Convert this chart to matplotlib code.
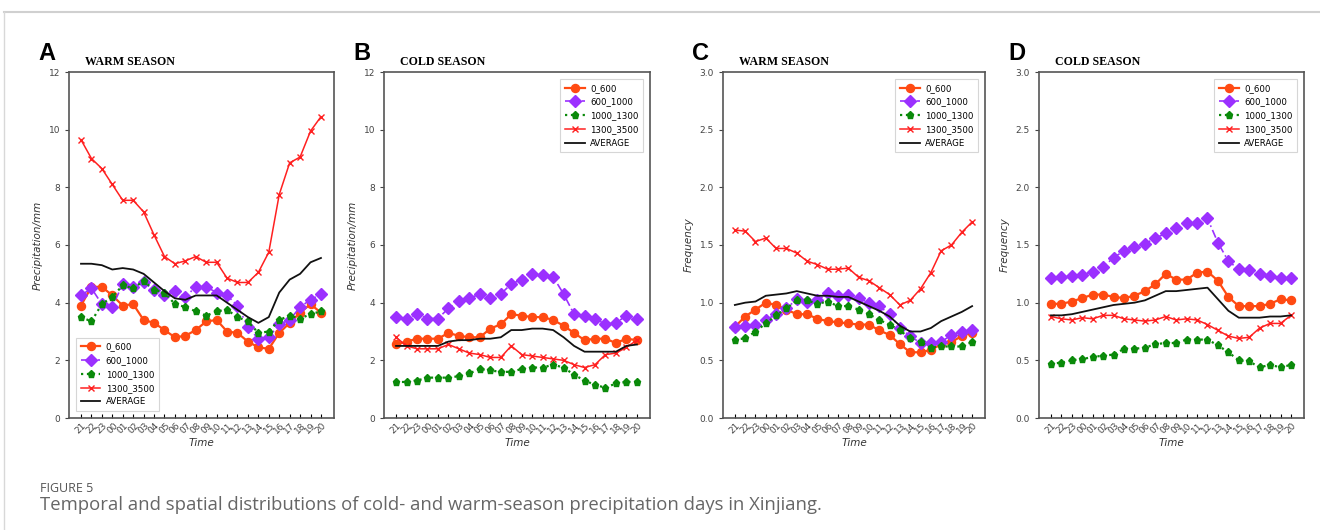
import matplotlib.pyplot as plt
from matplotlib.lines import Line2D

# hours, 21 UTC through 20
hours = ["21", "22", "23", "00", "01", "02", "03", "04", "05", "06", "07", "08",
         "09", "10", "11", "12", "13", "14", "15", "16", "17", "18", "19", "20"]
series_names = ["0_600", "600_1000", "1000_1300", "1300_3500", "AVERAGE"]

# A - warm season precipitation
a_0_600 = [3.9, 4.55, 4.55, 4.25, 3.9, 3.95, 3.4, 3.3, 3.05, 2.8, 2.85, 3.05,
           3.35, 3.4, 3.0, 2.95, 2.65, 2.45, 2.4, 2.95, 3.3, 3.65, 3.95, 3.65]
a_600_1000 = [4.25, 4.5, 3.95, 3.85, 4.65, 4.55, 4.7, 4.45, 4.25, 4.4, 4.2, 4.55,
              4.55, 4.35, 4.25, 3.9, 3.15, 2.75, 2.8, 3.25, 3.4, 3.85, 4.1, 4.3]
a_1000_1300 = [3.5, 3.35, 3.95, 4.2, 4.6, 4.5, 4.75, 4.45, 4.35, 3.95, 3.85, 3.7,
               3.55, 3.7, 3.75, 3.5, 3.35, 2.95, 3.0, 3.4, 3.55, 3.45, 3.6, 3.7]
a_1300_3500 = [9.65, 9.0, 8.65, 8.1, 7.55, 7.55, 7.15, 6.35, 5.6, 5.35, 5.45, 5.6,
               5.4, 5.4, 4.85, 4.7, 4.7, 5.05, 5.75, 7.75, 8.85, 9.05, 9.95, 10.45]
a_avg = [5.35, 5.35, 5.3, 5.15, 5.2, 5.15, 5.0, 4.7, 4.4, 4.15, 4.1, 4.25,
         4.25, 4.25, 4.0, 3.75, 3.5, 3.3, 3.5, 4.35, 4.8, 5.0, 5.4, 5.55]

# B - cold season precipitation
b_0_600 = [2.55, 2.65, 2.75, 2.75, 2.75, 2.95, 2.85, 2.8, 2.8, 3.1, 3.25, 3.6,
           3.55, 3.5, 3.5, 3.4, 3.2, 2.95, 2.7, 2.75, 2.75, 2.6, 2.75, 2.7]
b_600_1000 = [3.5, 3.45, 3.6, 3.45, 3.45, 3.8, 4.05, 4.15, 4.3, 4.15, 4.3, 4.65,
              4.8, 5.0, 4.95, 4.9, 4.3, 3.6, 3.55, 3.45, 3.25, 3.3, 3.55, 3.45]
b_1000_1300 = [1.25, 1.25, 1.3, 1.4, 1.4, 1.4, 1.45, 1.55, 1.7, 1.65, 1.6, 1.6,
               1.7, 1.75, 1.75, 1.85, 1.75, 1.5, 1.3, 1.15, 1.05, 1.2, 1.25, 1.25]
b_1300_3500 = [2.8, 2.5, 2.4, 2.4, 2.4, 2.55, 2.4, 2.25, 2.2, 2.1, 2.1, 2.5,
               2.2, 2.15, 2.1, 2.05, 2.0, 1.85, 1.75, 1.85, 2.2, 2.25, 2.45, 2.7]
b_avg = [2.5, 2.5, 2.5, 2.5, 2.5, 2.65, 2.7, 2.7, 2.75, 2.75, 2.8, 3.05,
         3.05, 3.1, 3.1, 3.05, 2.8, 2.5, 2.3, 2.3, 2.3, 2.3, 2.5, 2.55]

# C - warm season frequency
c_0_600 = [0.79, 0.88, 0.94, 1.00, 0.98, 0.94, 0.90, 0.90, 0.86, 0.84, 0.83, 0.82,
           0.81, 0.81, 0.76, 0.72, 0.64, 0.57, 0.57, 0.59, 0.64, 0.66, 0.71, 0.74]
c_600_1000 = [0.79, 0.80, 0.81, 0.85, 0.90, 0.95, 1.03, 1.01, 1.02, 1.08, 1.06, 1.07,
              1.04, 1.00, 0.97, 0.90, 0.78, 0.71, 0.65, 0.65, 0.66, 0.72, 0.75, 0.76]
c_1000_1300 = [0.68, 0.69, 0.75, 0.82, 0.89, 0.95, 1.02, 1.02, 0.99, 1.01, 0.97, 0.97,
               0.94, 0.90, 0.85, 0.81, 0.76, 0.69, 0.66, 0.61, 0.62, 0.62, 0.62, 0.66]
c_1300_3500 = [1.63, 1.62, 1.53, 1.56, 1.47, 1.47, 1.43, 1.36, 1.33, 1.29, 1.29, 1.30,
               1.22, 1.19, 1.13, 1.07, 0.98, 1.02, 1.12, 1.26, 1.45, 1.50, 1.61, 1.70]
c_avg = [0.98, 1.00, 1.01, 1.06, 1.07, 1.08, 1.10, 1.08, 1.06, 1.06, 1.05, 1.05,
         1.01, 0.97, 0.93, 0.88, 0.80, 0.75, 0.75, 0.78, 0.84, 0.88, 0.92, 0.97]

# D - cold season frequency
d_0_600 = [0.99, 0.99, 1.01, 1.04, 1.07, 1.07, 1.05, 1.04, 1.06, 1.10, 1.16, 1.25,
           1.20, 1.20, 1.26, 1.27, 1.19, 1.05, 0.97, 0.97, 0.97, 0.99, 1.03, 1.02]
d_600_1000 = [1.21, 1.22, 1.23, 1.24, 1.27, 1.31, 1.39, 1.45, 1.48, 1.51, 1.56, 1.60,
              1.65, 1.69, 1.69, 1.73, 1.52, 1.36, 1.29, 1.28, 1.25, 1.23, 1.21, 1.21]
d_1000_1300 = [0.47, 0.48, 0.50, 0.51, 0.53, 0.54, 0.55, 0.60, 0.60, 0.61, 0.64, 0.65,
               0.65, 0.68, 0.68, 0.68, 0.63, 0.57, 0.50, 0.49, 0.44, 0.46, 0.44, 0.46]
d_1300_3500 = [0.88, 0.86, 0.85, 0.87, 0.86, 0.89, 0.89, 0.86, 0.85, 0.84, 0.85, 0.88,
               0.85, 0.86, 0.85, 0.81, 0.76, 0.71, 0.69, 0.70, 0.78, 0.82, 0.82, 0.89]
d_avg = [0.89, 0.89, 0.90, 0.92, 0.94, 0.96, 0.98, 0.99, 1.00, 1.02, 1.06, 1.10,
         1.10, 1.11, 1.12, 1.13, 1.03, 0.93, 0.87, 0.87, 0.87, 0.88, 0.88, 0.89]

panels = [
    ("A", "WARM SEASON", "Precipitation/mm", 12, [0, 2, 4, 6, 8, 10, 12],
     [a_0_600, a_600_1000, a_1000_1300, a_1300_3500, a_avg], "lower left"),
    ("B", "COLD SEASON", "Precipitation/mm", 12, [0, 2, 4, 6, 8, 10, 12],
     [b_0_600, b_600_1000, b_1000_1300, b_1300_3500, b_avg], "upper right"),
    ("C", "WARM SEASON", "Frequency", 3, [0, 0.5, 1.0, 1.5, 2.0, 2.5, 3.0],
     [c_0_600, c_600_1000, c_1000_1300, c_1300_3500, c_avg], "upper right"),
    ("D", "COLD SEASON", "Frequency", 3, [0, 0.5, 1.0, 1.5, 2.0, 2.5, 3.0],
     [d_0_600, d_600_1000, d_1000_1300, d_1300_3500, d_avg], "upper right"),
]

styles = [
    dict(color="#ff4a12", ls="-", marker="o", ms=5.8, lw=1.6),
    dict(color="#9b30ff", ls=(0, (5, 2, 1, 2)), marker="D", ms=5.8, lw=1.2),
    dict(color="#0a8a0a", ls=":", marker="p", ms=5.2, lw=1.6),
    dict(color="#ff2020", ls="-", marker="x", ms=5, lw=1.1, mew=1.0),
    dict(color="#111111", ls="-", marker=None, lw=1.3),
]

W, H = 1320, 530
fig = plt.figure(figsize=(W / 100, H / 100), dpi=100)

# card border of the figure page
fig.add_artist(Line2D([4 / W, 1], [1 - 12 / H, 1 - 12 / H], color="#d0d0d0", lw=1.5))
fig.add_artist(Line2D([4 / W, 4 / W], [0, 1 - 12 / H], color="#d8d8d8", lw=1.0))

boxes = [(69, 334), (384, 650), (723, 985), (1039, 1304)]
top, bottom = 72, 418
x = list(range(len(hours)))

for (letter, title, ylab, ymax, yticks, data, legloc), (l, r) in zip(panels, boxes):
    ax = fig.add_axes([l / W, 1 - bottom / H, (r - l) / W, (bottom - top) / H])
    for name, vals, st in zip(series_names, data, styles):
        ax.plot(x, vals, label=name, **st)
    ax.set_xlim(-1.15, 24.25)
    ax.set_ylim(0, ymax)
    ax.set_xticks(x)
    ax.set_xticklabels(hours, rotation=45, fontsize=6.5, color="#444444")
    ax.set_yticks(yticks)
    if ymax == 3:
        ax.set_yticklabels([f"{t:.1f}" for t in yticks])
    ax.tick_params(axis="y", labelsize=6.5, colors="#444444", length=3, width=0.8)
    ax.tick_params(axis="x", direction="in", length=3, width=0.8, pad=2)
    for sp in ax.spines.values():
        sp.set_color("#555555")
        sp.set_linewidth(1.2)
    ax.set_ylabel(ylab, fontsize=7.5, style="italic", color="#333333", labelpad=4)
    ax.set_xlabel("Time", fontsize=7.5, style="italic", color="#333333", labelpad=2)
    leg = ax.legend(loc=legloc, fontsize=6.2, frameon=True, fancybox=False,
                    edgecolor="#cccccc", handlelength=2.3, handletextpad=0.6,
                    labelspacing=0.55, borderpad=0.55, borderaxespad=0.8)
    leg.get_frame().set_linewidth(0.8)
    fig.text((l - 31) / W, 1 - 54 / H, letter, fontsize=17, fontweight="bold",
             family="Liberation Sans", va="center", ha="left")
    fig.text((l + 16) / W, 1 - 62 / H, title, fontsize=8.6, fontweight="bold",
             family="Liberation Serif", va="center", ha="left")

fig.text(40 / W, 1 - 488 / H, "FIGURE 5", fontsize=9, family="Open Sans",
         color="#555555", va="center", ha="left")
fig.text(40 / W, 1 - 505 / H,
         "Temporal and spatial distributions of cold- and warm-season precipitation days in Xinjiang.",
         fontsize=13.3, family="Open Sans", color="#666666", va="center", ha="left")

fig.savefig("out.png", dpi=100)
